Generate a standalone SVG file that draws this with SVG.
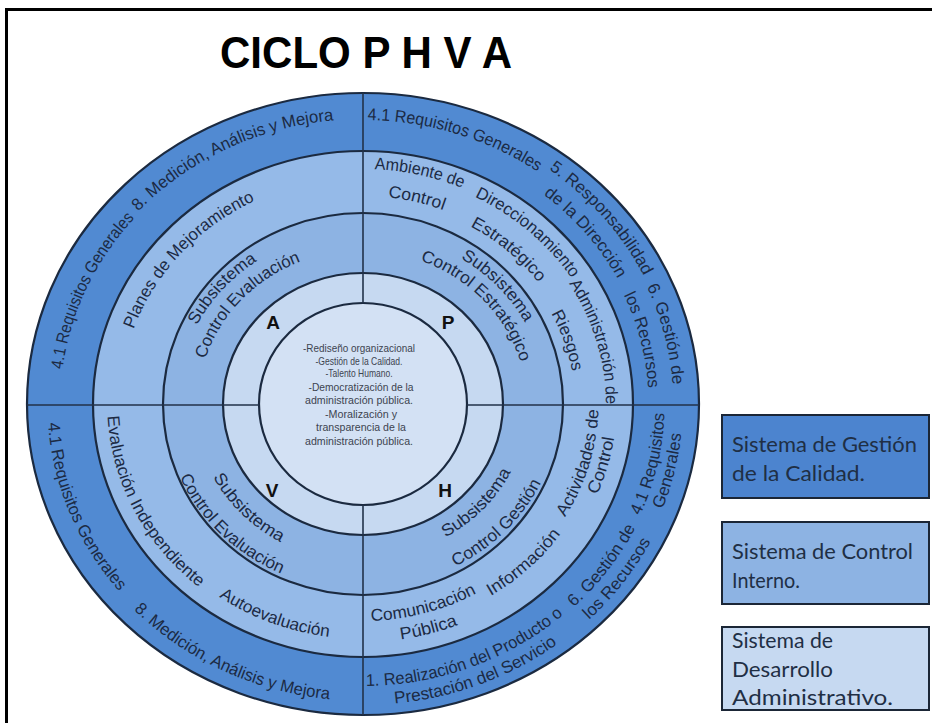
<svg xmlns="http://www.w3.org/2000/svg" width="932" height="723" viewBox="0 0 932 723">
<style>
.ring{stroke:#1b2a40;stroke-width:2.2}
.div{stroke:#22324a;stroke-width:1.6;fill:none}
.t{font-family:"Liberation Sans",Arial,sans-serif;font-size:17px;fill:#1c2a44}
.L{font-family:"Liberation Sans",Arial,sans-serif;font-size:19px;font-weight:bold;fill:#111}
.c{font-family:"Liberation Sans",Arial,sans-serif;font-size:11px;fill:#3d4450;text-anchor:middle}
.lg{font-family:Lato,"Open Sans",sans-serif;font-size:21px;fill:#1f2f45}
.box{stroke:#1b2636;stroke-width:2}
</style>
<defs>
<path id="p1" d="M61.9,374.4 A302.8,283 0 0 1 138,214.6"/>
<path id="p2" d="M138.1,211.5 A305,285 0 0 1 333.8,120.3"/>
<path id="p3" d="M367.8,120 A303.9,284 0 0 1 537.3,171.4"/>
<path id="p4" d="M548.8,169.3 A312.4,292 0 0 1 643.8,276"/>
<path id="p5" d="M543.3,194.4 A287.8,269 0 0 1 617.8,279"/>
<path id="p6" d="M646.5,286.1 A310.3,290 0 0 1 672.7,385.3"/>
<path id="p7" d="M624,295.4 A285.7,267 0 0 1 648.2,387.7"/>
<path id="p8" d="M640.1,515.5 A301.7,282 0 0 0 664.5,413.4"/>
<path id="p9" d="M662.5,509.2 A319.9,299 0 0 0 681.3,433.7"/>
<path id="p10" d="M574.1,606.9 A302.8,283 0 0 0 635.2,528.1"/>
<path id="p11" d="M588.7,620.1 A323.1,302 0 0 0 650.9,541.1"/>
<path id="p12" d="M366.2,686 A301.7,282 0 0 0 563.3,614.9"/>
<path id="p13" d="M393.9,703.6 A322.1,301 0 0 0 558.2,643.5"/>
<path id="p14" d="M48,423 A315.7,295 0 0 0 119.1,591.2"/>
<path id="p15" d="M134,609.9 A317.8,297 0 0 0 329.2,699.3"/>
<path id="q1" d="M133.6,329.3 A242.9,227 0 0 1 255,200.7"/>
<path id="q2" d="M370,169.1 A251.5,235 0 0 1 466.5,189.8"/>
<path id="q3" d="M387,197.2 A222.6,208 0 0 1 444.2,210.3"/>
<path id="q4" d="M471.4,195.3 A248.2,232 0 0 1 573.7,281.4"/>
<path id="q5" d="M469.2,225.7 A218.3,204 0 0 1 539.2,283.5"/>
<path id="q6" d="M569,283.7 A242.9,227 0 0 1 605.9,404"/>
<path id="q7" d="M551.1,312.9 A211.9,198 0 0 1 572.1,371.7"/>
<path id="q8" d="M564.4,518 A235.4,220 0 0 0 598.4,408.6"/>
<path id="q9" d="M595.6,498.5 A253.6,237 0 0 0 614.6,433.7"/>
<path id="q10" d="M489.7,596.5 A241.8,226 0 0 0 561.5,533"/>
<path id="q11" d="M370.3,620.9 A232.2,217 0 0 0 477.3,592.9"/>
<path id="q12" d="M398.9,639.6 A254.7,238 0 0 0 459.7,624.2"/>
<path id="q13" d="M107.6,415.7 A255.7,239 0 0 0 199.3,587.6"/>
<path id="q14" d="M218.7,596.5 A251.5,235 0 0 0 329.3,636.9"/>
<path id="s1" d="M197.1,325 A186.2,174 0 0 1 256.7,261.1"/>
<path id="s2" d="M205.4,359 A164.8,154 0 0 1 300.7,261.4"/>
<path id="s3" d="M458.3,256.9 A184,172 0 0 1 526.5,325.1"/>
<path id="s4" d="M418.7,260.1 A163.7,153 0 0 1 520.9,363.6"/>
<path id="s5" d="M443.4,538.4 A164.8,154 0 0 0 512,469.8"/>
<path id="s6" d="M453,567.6 A196.9,184 0 0 0 542.2,480.3"/>
<path id="s7" d="M212.6,476.2 A169.1,158 0 0 0 281.5,542.5"/>
<path id="s8" d="M179.5,476.1 A199,186 0 0 0 282.1,573.9"/>
</defs>
<rect width="932" height="723" fill="#fff"/>
<path d="M6.5,723 V9.5 H932" fill="none" stroke="#000" stroke-width="3"/>
<g id="title"><text x="366" y="68" text-anchor="middle" textLength="292" lengthAdjust="spacingAndGlyphs" style="font-family:'Liberation Sans',Arial,sans-serif;font-size:44px;font-weight:bold;fill:#000">CICLO P H V A</text></g>
<g id="rings">
<ellipse id="ring-calidad" class="ring" cx="363" cy="404" rx="336" ry="311" fill="#518ad2"/>
<ellipse id="ring-control-1" class="ring" cx="363" cy="404" rx="270" ry="253" fill="#95bae8"/>
<ellipse id="ring-control-2" class="ring" cx="363" cy="404" rx="200" ry="191" fill="#8db3e3"/>
<ellipse id="ring-desarrollo" class="ring" cx="363" cy="404" rx="140" ry="131" fill="#c6d9f1"/>
<ellipse id="core" class="ring" cx="363" cy="404" rx="104" ry="101" fill="#d3e1f4"/>
</g>
<g id="connectors">
<path class="div" d="M363,93 V303 M363,505 V715 M27,405 H259 M467,405 H699"/>
</g>
<g id="outer-labels" class="t">
<text text-anchor="middle"><textPath href="#p1" startOffset="50%" textLength="170" lengthAdjust="spacingAndGlyphs">4.1 Requisitos Generales</textPath></text>
<text text-anchor="middle"><textPath href="#p2" startOffset="50%" textLength="220" lengthAdjust="spacingAndGlyphs">8. Medición, Análisis y Mejora</textPath></text>
<text text-anchor="middle"><textPath href="#p3" startOffset="50%" textLength="180" lengthAdjust="spacingAndGlyphs">4.1 Requisitos Generales</textPath></text>
<text text-anchor="middle"><textPath href="#p4" startOffset="50%" textLength="144" lengthAdjust="spacingAndGlyphs">5. Responsabilidad</textPath></text>
<text text-anchor="middle"><textPath href="#p5" startOffset="50%" textLength="113" lengthAdjust="spacingAndGlyphs">de la Dirección</textPath></text>
<text text-anchor="middle"><textPath href="#p6" startOffset="50%" textLength="102" lengthAdjust="spacingAndGlyphs">6. Gestión de</textPath></text>
<text text-anchor="middle"><textPath href="#p7" startOffset="50%" textLength="97" lengthAdjust="spacingAndGlyphs">los Recursos</textPath></text>
<text text-anchor="middle"><textPath href="#p8" startOffset="50%" textLength="106" lengthAdjust="spacingAndGlyphs">4.1 Requisitos</textPath></text>
<text text-anchor="middle"><textPath href="#p9" startOffset="50%" textLength="78" lengthAdjust="spacingAndGlyphs">Generales</textPath></text>
<text text-anchor="middle"><textPath href="#p10" startOffset="50%" textLength="101" lengthAdjust="spacingAndGlyphs">6. Gestión de</textPath></text>
<text text-anchor="middle"><textPath href="#p11" startOffset="50%" textLength="100" lengthAdjust="spacingAndGlyphs">los Recursos</textPath></text>
<text text-anchor="middle"><textPath href="#p12" startOffset="50%" textLength="214" lengthAdjust="spacingAndGlyphs">1. Realización del Producto o</textPath></text>
<text text-anchor="middle"><textPath href="#p13" startOffset="50%" textLength="175" lengthAdjust="spacingAndGlyphs">Prestación del Servicio</textPath></text>
<text text-anchor="middle"><textPath href="#p14" startOffset="50%" textLength="186" lengthAdjust="spacingAndGlyphs">4.1 Requisitos Generales</textPath></text>
<text text-anchor="middle"><textPath href="#p15" startOffset="50%" textLength="219" lengthAdjust="spacingAndGlyphs">8. Medición, Análisis y Mejora</textPath></text>
</g>
<g id="control-labels" class="t">
<text text-anchor="middle"><textPath href="#q1" startOffset="50%" textLength="181" lengthAdjust="spacingAndGlyphs">Planes de Mejoramiento</textPath></text>
<text text-anchor="middle"><textPath href="#q2" startOffset="50%" textLength="90" lengthAdjust="spacingAndGlyphs">Ambiente de</textPath></text>
<text text-anchor="middle"><textPath href="#q3" startOffset="50%" textLength="57" lengthAdjust="spacingAndGlyphs">Control</textPath></text>
<text text-anchor="middle"><textPath href="#q4" startOffset="50%" textLength="128" lengthAdjust="spacingAndGlyphs">Direccionamiento</textPath></text>
<text text-anchor="middle"><textPath href="#q5" startOffset="50%" textLength="89" lengthAdjust="spacingAndGlyphs">Estratégico</textPath></text>
<text text-anchor="middle"><textPath href="#q6" startOffset="50%" textLength="128" lengthAdjust="spacingAndGlyphs">Administración de</textPath></text>
<text text-anchor="middle"><textPath href="#q7" startOffset="50%" textLength="62" lengthAdjust="spacingAndGlyphs">Riesgos</textPath></text>
<text text-anchor="middle"><textPath href="#q8" startOffset="50%" textLength="114" lengthAdjust="spacingAndGlyphs">Actividades de</textPath></text>
<text text-anchor="middle"><textPath href="#q9" startOffset="50%" textLength="60" lengthAdjust="spacingAndGlyphs">Control</textPath></text>
<text text-anchor="middle"><textPath href="#q10" startOffset="50%" textLength="94" lengthAdjust="spacingAndGlyphs">Información</textPath></text>
<text text-anchor="middle"><textPath href="#q11" startOffset="50%" textLength="110" lengthAdjust="spacingAndGlyphs">Comunicación</textPath></text>
<text text-anchor="middle"><textPath href="#q12" startOffset="50%" textLength="59" lengthAdjust="spacingAndGlyphs">Pública</textPath></text>
<text text-anchor="middle"><textPath href="#q13" startOffset="50%" textLength="200" lengthAdjust="spacingAndGlyphs">Evaluación Independiente</textPath></text>
<text text-anchor="middle"><textPath href="#q14" startOffset="50%" textLength="118" lengthAdjust="spacingAndGlyphs">Autoevaluación</textPath></text>
</g>
<g id="subsystem-labels" class="t">
<text text-anchor="middle"><textPath href="#s1" startOffset="50%" textLength="89" lengthAdjust="spacingAndGlyphs">Subsistema</textPath></text>
<text text-anchor="middle"><textPath href="#s2" startOffset="50%" textLength="141" lengthAdjust="spacingAndGlyphs">Control Evaluación</textPath></text>
<text text-anchor="middle"><textPath href="#s3" startOffset="50%" textLength="92" lengthAdjust="spacingAndGlyphs">Subsistema</textPath></text>
<text text-anchor="middle"><textPath href="#s4" startOffset="50%" textLength="148" lengthAdjust="spacingAndGlyphs">Control Estratégico</textPath></text>
<text text-anchor="middle"><textPath href="#s5" startOffset="50%" textLength="94" lengthAdjust="spacingAndGlyphs">Subsistema</textPath></text>
<text text-anchor="middle"><textPath href="#s6" startOffset="50%" textLength="122" lengthAdjust="spacingAndGlyphs">Control Gestión</textPath></text>
<text text-anchor="middle"><textPath href="#s7" startOffset="50%" textLength="95" lengthAdjust="spacingAndGlyphs">Subsistema</textPath></text>
<text text-anchor="middle"><textPath href="#s8" startOffset="50%" textLength="143" lengthAdjust="spacingAndGlyphs">Control Evaluación</textPath></text>
</g>
<g id="phva-letters" class="L">
<text x="273" y="329" text-anchor="middle">A</text>
<text x="448" y="329" text-anchor="middle">P</text>
<text x="272" y="497" text-anchor="middle">V</text>
<text x="445" y="497" text-anchor="middle">H</text>
</g>
<g id="core-text" class="c">
<text x="359" y="352" textLength="112" lengthAdjust="spacingAndGlyphs">-Rediseño organizacional</text>
<text x="359" y="365" textLength="87" lengthAdjust="spacingAndGlyphs">-Gestión de la Calidad.</text>
<text x="359" y="377" textLength="67" lengthAdjust="spacingAndGlyphs">-Talento Humano.</text>
<text x="361" y="391" textLength="105" lengthAdjust="spacingAndGlyphs">-Democratización de la</text>
<text x="359" y="404" textLength="108" lengthAdjust="spacingAndGlyphs">administración pública.</text>
<text x="361" y="418" textLength="72" lengthAdjust="spacingAndGlyphs">-Moralización y</text>
<text x="361" y="431" textLength="90" lengthAdjust="spacingAndGlyphs">transparencia de la</text>
<text x="359" y="445" textLength="108" lengthAdjust="spacingAndGlyphs">administración pública.</text>
</g>
<g id="legend-calidad">
<rect class="box" x="722" y="415" width="207" height="83" fill="#4c84cf"/>
<text class="lg" x="732" y="452" textLength="185" lengthAdjust="spacingAndGlyphs">Sistema de Gestión</text>
<text class="lg" x="732" y="481" textLength="133" lengthAdjust="spacingAndGlyphs">de la Calidad.</text>
</g>
<g id="legend-control">
<rect class="box" x="722" y="522" width="207" height="82" fill="#8db3e3"/>
<text class="lg" x="732" y="559" textLength="181" lengthAdjust="spacingAndGlyphs">Sistema de Control</text>
<text class="lg" x="732" y="588" textLength="68" lengthAdjust="spacingAndGlyphs">Interno.</text>
</g>
<g id="legend-desarrollo">
<rect class="box" x="722" y="627" width="207" height="83" fill="#c6d9f1"/>
<text class="lg" x="732" y="648" textLength="101" lengthAdjust="spacingAndGlyphs">Sistema de</text>
<text class="lg" x="732" y="677" textLength="101" lengthAdjust="spacingAndGlyphs">Desarrollo</text>
<text class="lg" x="732" y="705" textLength="161" lengthAdjust="spacingAndGlyphs">Administrativo.</text>
</g>
</svg>
